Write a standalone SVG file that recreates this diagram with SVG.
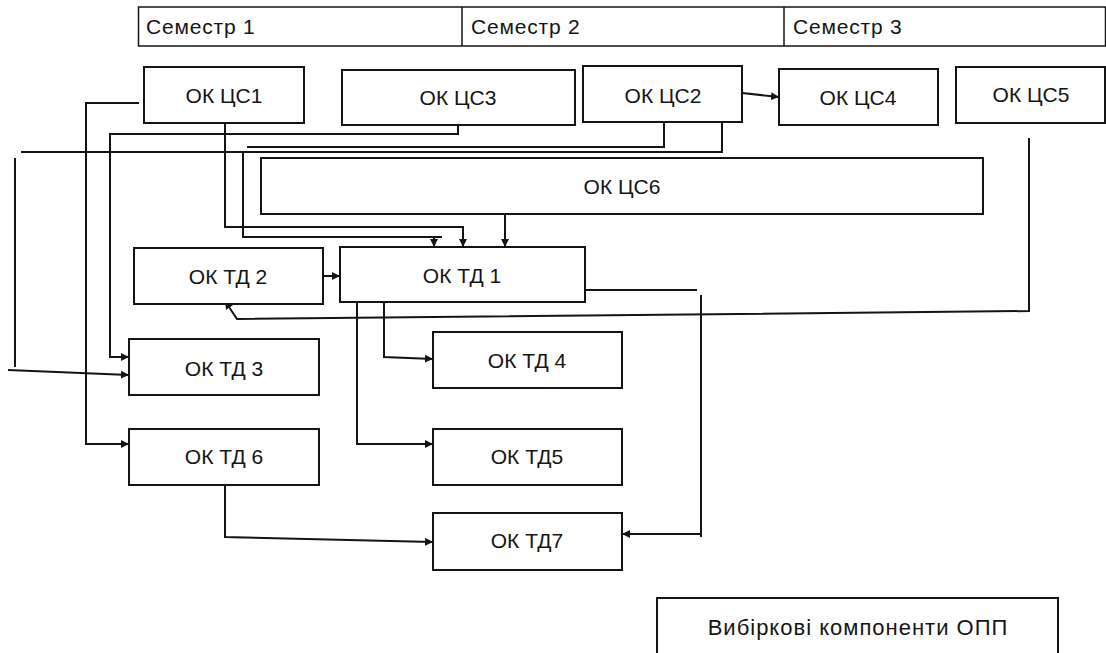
<svg xmlns="http://www.w3.org/2000/svg" width="1106" height="653" viewBox="0 0 1106 653">
<style>
.box{fill:#fff;stroke:#141414;stroke-width:2}
.lbl{font-family:"Liberation Sans",Arial,sans-serif;font-size:21px;fill:#141414;text-anchor:middle}
.hdr{font-family:"Liberation Sans",Arial,sans-serif;font-size:21px;letter-spacing:0.8px;fill:#141414}
.c{fill:none;stroke:#141414;stroke-width:2}
.a{marker-end:url(#arr)}
</style>
<defs>
<marker id="arr" viewBox="0 0 8 8" refX="8" refY="4" markerWidth="8" markerHeight="8" markerUnits="userSpaceOnUse" orient="auto">
<path d="M0,0 L8,4 L0,8 z" fill="#141414"/>
</marker>
</defs>
<rect width="1106" height="653" fill="#fff"/>
<g id="header">
<rect x="138.5" y="7" width="967" height="39" fill="#fff" stroke="#141414" stroke-width="1.5"/>
<line x1="462" y1="7" x2="462" y2="46" stroke="#141414" stroke-width="1.5"/>
<line x1="784" y1="7" x2="784" y2="46" stroke="#141414" stroke-width="1.5"/>
<text class="hdr" x="146" y="34">Семестр 1</text>
<text class="hdr" x="471" y="34">Семестр 2</text>
<text class="hdr" x="793" y="34">Семестр 3</text>
</g>
<g id="connectors">
<path class="c a" d="M139,103 H86 V444 H129"/>
<path class="c a" d="M225,123 V227 H463 V247"/>
<path class="c a" d="M458,125 V134 H110 V357 H129"/>
<path class="c" d="M664,122 V147 H247"/>
<path class="c" d="M722,121 V152 H21"/>
<path class="c" d="M243,152 V237 H442"/>
<path class="c a" d="M434,237 V247"/>
<path class="c" d="M15,158 V367"/>
<path class="c a" d="M8,370 L129,375"/>
<path class="c a" d="M505,214 V247"/>
<path class="c a" d="M742,93 L779,97"/>
<path class="c a" d="M323,276 H340"/>
<path class="c a" d="M1029,138 V311 L237,319 L225,301"/>
<path class="c" d="M585,290 H697"/>
<path class="c" d="M701,295 V537"/>
<path class="c a" d="M701,534 H622"/>
<path class="c a" d="M384,302 V357 L433,359"/>
<path class="c a" d="M357,302 V444 H433"/>
<path class="c a" d="M225,485 V537 L433,542"/>
</g>
<g id="cs1"><rect class="box" x="144" y="67" width="160" height="56"/><text class="lbl" x="224" y="103">ОК ЦС1</text></g>
<g id="cs3"><rect class="box" x="342" y="70" width="233" height="55"/><text class="lbl" x="458" y="105">ОК ЦС3</text></g>
<g id="cs2"><rect class="box" x="583" y="66" width="159" height="56"/><text class="lbl" x="663" y="103">ОК ЦС2</text></g>
<g id="cs4"><rect class="box" x="779" y="69" width="159" height="56"/><text class="lbl" x="858" y="105">ОК ЦС4</text></g>
<g id="cs5"><rect class="box" x="956" y="67" width="149" height="56"/><text class="lbl" x="1031" y="102">ОК ЦС5</text></g>
<g id="cs6"><rect class="box" x="261" y="158" width="722" height="56"/><text class="lbl" x="622" y="194">ОК ЦС6</text></g>
<g id="td2"><rect class="box" x="134" y="248" width="189" height="56"/><text class="lbl" x="228" y="284">ОК ТД 2</text></g>
<g id="td1"><rect class="box" x="340" y="247" width="245" height="55"/><text class="lbl" x="462" y="283">ОК ТД 1</text></g>
<g id="td3"><rect class="box" x="129" y="339" width="190" height="56"/><text class="lbl" x="224" y="376">ОК ТД 3</text></g>
<g id="td4"><rect class="box" x="433" y="332" width="189" height="56"/><text class="lbl" x="527" y="368">ОК ТД 4</text></g>
<g id="td6"><rect class="box" x="129" y="429" width="190" height="56"/><text class="lbl" x="224" y="464">ОК ТД 6</text></g>
<g id="td5"><rect class="box" x="433" y="429" width="189" height="56"/><text class="lbl" x="527" y="464">ОК ТД5</text></g>
<g id="td7"><rect class="box" x="433" y="513" width="189" height="57"/><text class="lbl" x="527" y="548">ОК ТД7</text></g>
<g id="elective"><rect class="box" x="657" y="598" width="401" height="60"/><text class="lbl" x="858" y="635" style="font-size:22px;letter-spacing:1px">Вибіркові компоненти ОПП</text></g>
</svg>
